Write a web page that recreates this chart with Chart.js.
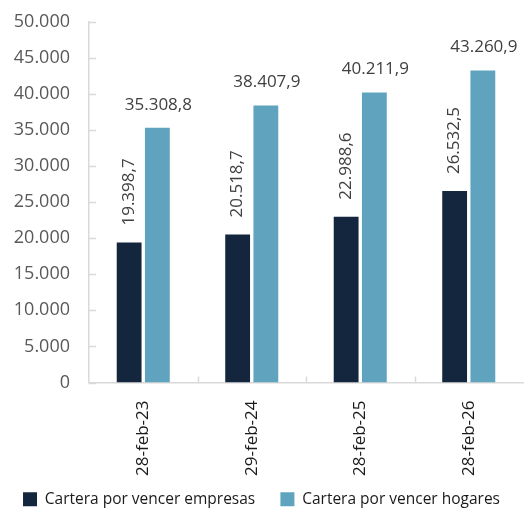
<!DOCTYPE html>
<html lang="es">
<head>
<meta charset="UTF-8">
<title>Cartera por vencer</title>
<script src="https://cdn.jsdelivr.net/npm/chart.js"></script>
<style>
  html, body { margin: 0; padding: 0; background: #fff; }
  #wrap { width: 531px; height: 510px; }
</style>
</head>
<body>
<div id="wrap"><canvas id="grafico"></canvas></div>
<script>
const categorias = ['28-feb-23', '29-feb-24', '28-feb-25', '28-feb-26'];
const empresas = [19398.7, 20518.7, 22988.6, 26532.5];
const hogares = [35308.8, 38407.9, 40211.9, 43260.9];
const nombres = ['Cartera por vencer empresas', 'Cartera por vencer hogares'];

const FUENTE = "'Open Sans', sans-serif";

// formato 12.345,6
function formato(v, dec) {
  const partes = v.toFixed(dec).split('.');
  const entero = partes[0].replace(/\B(?=(\d{3})+(?!\d))/g, '.');
  return partes.length > 1 ? entero + ',' + partes[1] : entero;
}

// marcas de los ejes hacia dentro y etiquetas de datos
const extras = {
  id: 'extras',
  afterDatasetsDraw(chart) {
    const ctx = chart.ctx;
    const area = chart.chartArea;
    const y = chart.scales.y;
    const x = chart.scales.x;
    ctx.save();
    ctx.strokeStyle = '#d9d9d9';
    ctx.lineWidth = 1.5;
    y.ticks.forEach(t => {
      const py = Math.round(y.getPixelForValue(t.value)) + 0.5;
      ctx.beginPath();
      ctx.moveTo(area.left, py);
      ctx.lineTo(area.left + 7, py);
      ctx.stroke();
    });
    for (let i = 1; i < categorias.length; i++) {
      const px = Math.round((x.getPixelForValue(i - 1) + x.getPixelForValue(i)) / 2) + 0.5;
      ctx.beginPath();
      ctx.moveTo(px, area.bottom);
      ctx.lineTo(px, area.bottom - 6);
      ctx.stroke();
    }

    ctx.fillStyle = '#404040';
    ctx.font = '17px ' + FUENTE;
    chart.getDatasetMeta(0).data.forEach((bar, i) => {
      ctx.save();
      ctx.translate(bar.x, bar.y - 17);
      ctx.rotate(-Math.PI / 2);
      ctx.textAlign = 'left';
      ctx.textBaseline = 'middle';
      ctx.fillText(formato(empresas[i], 1), 0, 0);
      ctx.restore();
    });
    chart.getDatasetMeta(1).data.forEach((bar, i) => {
      ctx.textAlign = 'center';
      ctx.textBaseline = 'alphabetic';
      ctx.fillText(formato(hogares[i], 1), bar.x + 1, bar.y - 18);
    });
    ctx.restore();
  }
};

new Chart(document.getElementById('grafico'), {
  type: 'bar',
  data: {
    labels: categorias,
    datasets: [
      { label: nombres[0], data: empresas, backgroundColor: '#13263d', barPercentage: 0.88, categoryPercentage: 0.52 },
      { label: nombres[1], data: hogares, backgroundColor: '#5fa3bf', barPercentage: 0.88, categoryPercentage: 0.52 }
    ]
  },
  options: {
    responsive: true,
    maintainAspectRatio: false,
    animation: false,
    layout: { padding: { top: -17, right: 8, left: 0, bottom: -7 } },
    scales: {
      y: {
        min: 0,
        max: 50000,
        afterFit(scale) { scale.width = 89; },
        ticks: {
          stepSize: 5000,
          color: '#595959',
          font: { family: FUENTE, size: 18 },
          padding: 11,
          callback: v => formato(v, 0)
        },
        grid: { display: false },
        border: { color: '#d9d9d9', width: 1.5 }
      },
      x: {
        afterFit(scale) { scale.height = 108; },
        ticks: {
          color: '#1a1a1a',
          font: { family: FUENTE, size: 17 },
          minRotation: 90,
          maxRotation: 90,
          padding: 10
        },
        grid: { display: false },
        border: { color: '#d9d9d9', width: 1.5 }
      }
    },
    plugins: {
      legend: {
        position: 'bottom',
        labels: {
          color: '#1a1a1a',
          font: { family: FUENTE, size: 15.5 },
          boxWidth: 14,
          boxHeight: 14,
          padding: 1,
          generateLabels(chart) {
            const items = Chart.defaults.plugins.legend.labels.generateLabels(chart);
            // separación entre las dos entradas
            items[0].text += '\u00A0\u00A0\u00A0\u00A0\u00A0\u00A0';
            return items;
          }
        }
      },
      tooltip: { enabled: false }
    }
  },
  plugins: [extras]
});
</script>
</body>
</html>
